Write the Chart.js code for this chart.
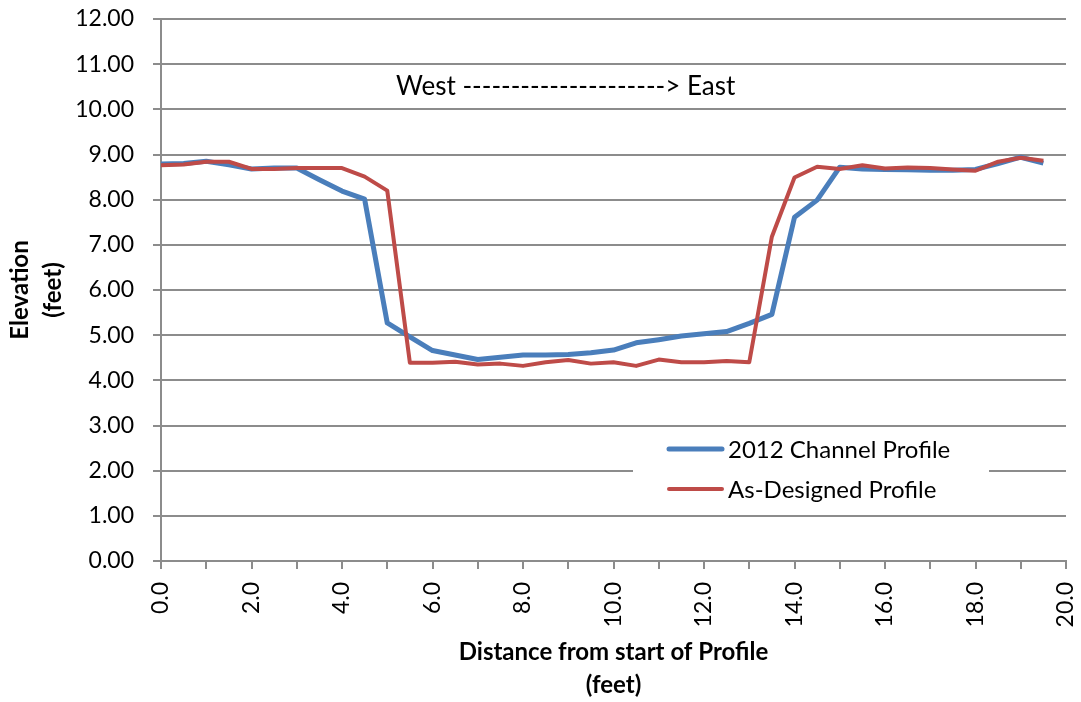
<!DOCTYPE html>
<html>
<head>
<meta charset="utf-8">
<title>Channel Profile</title>
<script src="https://cdn.jsdelivr.net/npm/chart.js@4.4.1/dist/chart.umd.min.js"></script>
<style>
  html, body { margin: 0; padding: 0; background: #ffffff; }
  #wrap { width: 1081px; height: 702px; }
</style>
</head>
<body>
<div id="wrap"><canvas id="profile" width="1081" height="702"></canvas></div>
<script>
// Distance along the profile (feet)
const distances = [
  0.0, 0.5, 1.0, 1.5, 2.0, 2.5, 3.0, 3.5, 4.0, 4.5,
  5.0, 5.5, 6.0, 6.5, 7.0, 7.5, 8.0, 8.5, 9.0, 9.5,
  10.0, 10.5, 11.0, 11.5, 12.0, 12.5, 13.0, 13.5, 14.0, 14.5,
  15.0, 15.5, 16.0, 16.5, 17.0, 17.5, 18.0, 18.5, 19.0, 19.5
];

// Surveyed 2012 channel elevations (feet)
const channel2012 = [
  8.79, 8.80, 8.85, 8.77, 8.68, 8.70, 8.70, 8.44, 8.19, 8.01,
  5.27, 4.96, 4.66, 4.56, 4.46, 4.51, 4.56, 4.56, 4.57, 4.61,
  4.67, 4.83, 4.90, 4.98, 5.03, 5.08, 5.26, 5.46, 7.61, 7.99,
  8.72, 8.68, 8.67, 8.66, 8.65, 8.65, 8.67, 8.80, 8.94, 8.81
];

// As-designed elevations (feet)
const asDesigned = [
  8.76, 8.78, 8.84, 8.84, 8.68, 8.68, 8.70, 8.70, 8.70, 8.51,
  8.20, 4.39, 4.39, 4.41, 4.35, 4.37, 4.32, 4.40, 4.45, 4.37,
  4.40, 4.32, 4.46, 4.40, 4.40, 4.43, 4.40, 7.18, 8.49, 8.73,
  8.68, 8.76, 8.69, 8.71, 8.70, 8.67, 8.64, 8.84, 8.93, 8.86
];

const seriesNames = ['2012 Channel Profile', 'As-Designed Profile'];
const directionNote = 'West ---------------------> East';
const xTitle = ['Distance from start of Profile', '(feet)'];
const yTitle = ['Elevation', '(feet)'];

const FONT = 'Lato, "Open Sans", "DejaVu Sans", sans-serif';
const GRID = '#8c8c8c';
const BLUE = '#4a7ebb';
const RED = '#be4b48';

const toPoints = (ys) => distances.map((x, i) => ({ x: x, y: ys[i] }));

// White page background
const backgroundPlugin = {
  id: 'pageBackground',
  beforeDraw(chart) {
    const ctx = chart.ctx;
    ctx.save();
    ctx.fillStyle = '#ffffff';
    ctx.fillRect(0, 0, chart.width, chart.height);
    ctx.restore();
  }
};

// Direction note and the boxed legend inside the plot
const annotationPlugin = {
  id: 'plotNotes',
  afterDatasetsDraw(chart) {
    const ctx = chart.ctx;
    const area = chart.chartArea;
    ctx.save();

    // direction note
    ctx.font = '26px ' + FONT;
    ctx.fillStyle = '#000000';
    ctx.textBaseline = 'alphabetic';
    ctx.textAlign = 'left';
    ctx.fillText(directionNote, area.left + 235, 95);

    // legend box
    const bx = area.left + 472, by = 431, bw = 356, bh = 76;
    ctx.fillStyle = '#ffffff';
    ctx.fillRect(bx, by, bw, bh);

    const rows = [
      { label: seriesNames[0], color: BLUE, width: 5, y: 449 },
      { label: seriesNames[1], color: RED, width: 4, y: 489 }
    ];
    ctx.font = '24px ' + FONT;
    ctx.textBaseline = 'middle';
    rows.forEach(r => {
      ctx.strokeStyle = r.color;
      ctx.lineWidth = r.width;
      ctx.lineCap = 'round';
      ctx.beginPath();
      ctx.moveTo(bx + 36, r.y);
      ctx.lineTo(bx + 89, r.y);
      ctx.stroke();
      ctx.fillStyle = '#000000';
      ctx.fillText(r.label, bx + 95, r.y + 1);
    });
    ctx.restore();
  }
};

new Chart(document.getElementById('profile'), {
  type: 'line',
  data: {
    datasets: [
      {
        label: seriesNames[0],
        data: toPoints(channel2012),
        borderColor: BLUE,
        backgroundColor: BLUE,
        borderWidth: 5,
        pointRadius: 0,
        tension: 0,
        borderJoinStyle: 'round',
        order: 1
      },
      {
        label: seriesNames[1],
        data: toPoints(asDesigned),
        borderColor: RED,
        backgroundColor: RED,
        borderWidth: 4,
        pointRadius: 0,
        tension: 0,
        borderJoinStyle: 'round',
        order: 0
      }
    ]
  },
  options: {
    responsive: false,
    animation: false,
    events: [],
    layout: { autoPadding: false, padding: { top: 19, right: 15, bottom: 0, left: 0 } },
    plugins: {
      legend: { display: false },
      tooltip: { enabled: false },
      title: { display: false }
    },
    scales: {
      x: {
        type: 'linear',
        min: 0,
        max: 20,
        afterFit(scale) {
          scale.height = 141;
          scale.paddingLeft = 0;
          scale.paddingRight = 0;
        },
        ticks: {
          stepSize: 1,
          autoSkip: false,
          maxRotation: 90,
          minRotation: 90,
          padding: 13,
          color: '#000000',
          font: { family: FONT, size: 23 },
          callback: (v) => (Math.round(v) % 2 === 0 ? Number(v).toFixed(1) : '')
        },
        grid: {
          drawOnChartArea: false,
          drawTicks: true,
          tickLength: 8,
          color: GRID,
          lineWidth: 2
        },
        border: { display: true, color: GRID, width: 2 },
        title: {
          display: true,
          text: xTitle,
          color: '#000000',
          font: { family: FONT, size: 24, weight: 'bold', lineHeight: 1.375 },
          padding: { top: 0, bottom: 0 }
        }
      },
      y: {
        min: 0,
        max: 12,
        afterFit(scale) {
          scale.width = 161;
          scale.paddingTop = 0;
          scale.paddingBottom = 0;
        },
        ticks: {
          stepSize: 1,
          padding: 19,
          color: '#000000',
          font: { family: FONT, size: 23 },
          callback: (v) => Number(v).toFixed(2)
        },
        grid: {
          color: GRID,
          lineWidth: 2,
          tickLength: 8
        },
        border: { display: true, color: GRID, width: 2 },
        title: {
          display: true,
          text: yTitle,
          color: '#000000',
          font: { family: FONT, size: 24, weight: 'bold', lineHeight: 1.375 },
          padding: { top: 4, bottom: 0 }
        }
      }
    }
  },
  plugins: [backgroundPlugin, annotationPlugin]
});
</script>
</body>
</html>
